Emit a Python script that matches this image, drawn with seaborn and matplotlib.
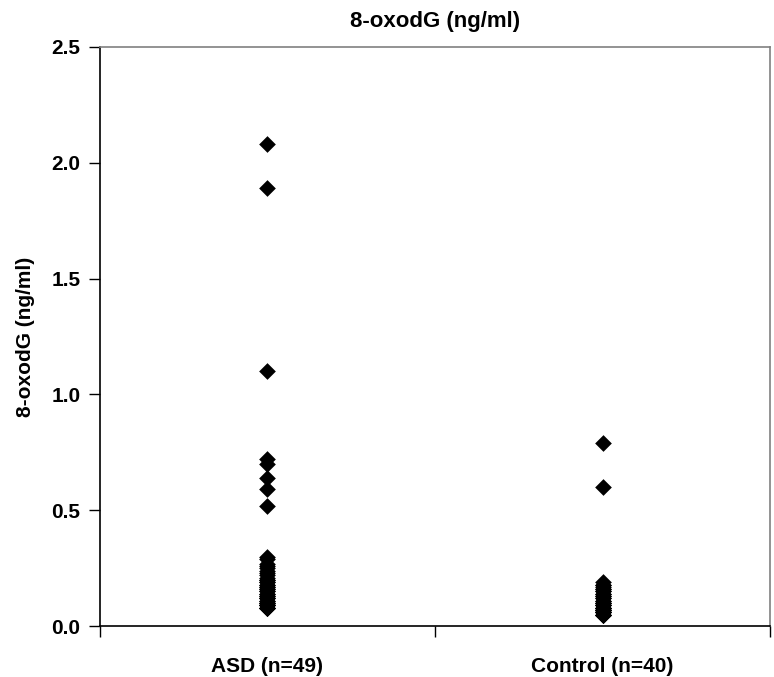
import matplotlib
matplotlib.use("Agg")
import matplotlib.pyplot as plt
import seaborn as sns
import pandas as pd

# group labels
groups = ["ASD (n=49)", "Control (n=40)"]

# 8-oxodG values (overlapping points are repeated)
asd_vals = [2.08, 1.89, 1.10, 0.72, 0.70, 0.64, 0.59, 0.52,
            0.30, 0.29, 0.27, 0.26, 0.25, 0.24, 0.23, 0.22, 0.21, 0.20,
            0.20, 0.19, 0.19, 0.18, 0.18, 0.17, 0.17, 0.16, 0.16, 0.15,
            0.15, 0.14, 0.14, 0.13, 0.13, 0.12, 0.12, 0.12, 0.11, 0.11,
            0.10, 0.10, 0.10, 0.09, 0.09, 0.09, 0.09, 0.08, 0.08, 0.08, 0.08]
control_vals = [0.79, 0.60,
                0.19, 0.18, 0.18, 0.17, 0.16, 0.16, 0.15, 0.15, 0.14, 0.14,
                0.13, 0.13, 0.12, 0.12, 0.11, 0.11, 0.10, 0.10, 0.10, 0.09,
                0.09, 0.09, 0.08, 0.08, 0.08, 0.08, 0.07, 0.07, 0.07, 0.07,
                0.06, 0.06, 0.06, 0.06, 0.05, 0.05, 0.05, 0.05]

y_ticks = [0.0, 0.5, 1.0, 1.5, 2.0, 2.5]

df = pd.DataFrame({
    "group": [groups[0]] * len(asd_vals) + [groups[1]] * len(control_vals),
    "value": asd_vals + control_vals,
})

sns.set_style("white")
plt.rcParams["font.family"] = ["Liberation Sans", "DejaVu Sans"]
plt.rcParams["font.weight"] = "bold"
plt.rcParams["text.color"] = "black"
plt.rcParams["xtick.color"] = "black"
plt.rcParams["ytick.color"] = "black"
plt.rcParams["axes.labelcolor"] = "black"

fig = plt.figure(figsize=(7.74, 6.77), dpi=100)
ax = fig.add_axes([0.129, 0.075, 0.866, 0.856])

sns.stripplot(data=df, x="group", y="value", order=groups, jitter=False,
              marker="D", size=8.5, color="black", linewidth=0, ax=ax)

ax.set_xlim(-0.5, 1.5)
ax.set_ylim(0, 2.5)
ax.set_yticks(y_ticks)
ax.set_yticklabels([f"{v:.1f}" for v in y_ticks], fontsize=15, fontweight="bold")

# category labels without ticks, ticks at the group boundaries
ax.set_xticks([-0.5, 0.5, 1.5], minor=False)
ax.set_xticklabels([])
ax.set_xticks([0, 1], minor=True)
ax.set_xticklabels(groups, minor=True, fontsize=15, fontweight="bold")
ax.tick_params(axis="x", which="minor", bottom=True, length=0, pad=22)
ax.tick_params(axis="x", which="major", bottom=True, direction="out", length=8, width=1)
ax.tick_params(axis="y", left=True, direction="out", length=8, width=1, pad=6)

ax.set_xlabel("")
ax.set_ylabel("8-oxodG (ng/ml)", fontsize=15, fontweight="bold", labelpad=12)
ax.set_title("8-oxodG (ng/ml)", fontsize=16, fontweight="bold", pad=14)

for side in ["left", "bottom"]:
    ax.spines[side].set_color("black")
    ax.spines[side].set_linewidth(1.2)
for side in ["top", "right"]:
    ax.spines[side].set_color("#808080")
    ax.spines[side].set_linewidth(1.2)

fig.savefig("out.png", dpi=100)
